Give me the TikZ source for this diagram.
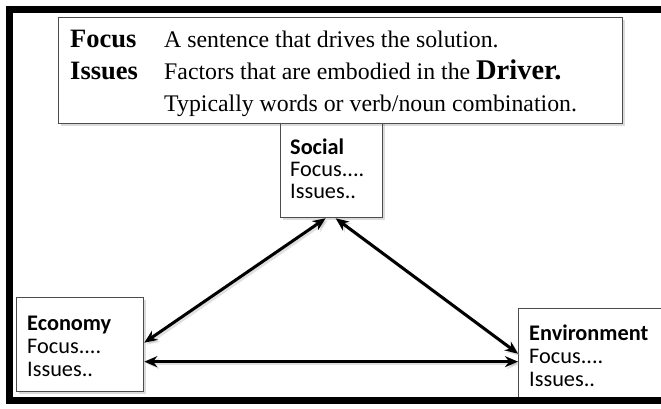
\documentclass[tikz,border=0pt]{standalone}
\usepackage{fontspec}
\setmainfont{Liberation Serif}
\newfontfamily\calfont{Carlito}
\usetikzlibrary{arrows.meta,shadows}

\tikzset{
  box/.style={draw=black!70, line width=1.3pt, fill=white, anchor=north west, inner sep=0pt,
    drop shadow={shadow xshift=2.5pt, shadow yshift=-2.5pt, opacity=0.2, fill=black!70}},
  lbl/.style={anchor=base west, inner sep=0pt, font=\calfont\fontsize{22.3}{23}\selectfont},
  ttl/.style={anchor=base west, inner sep=0pt, font=\calfont\bfseries\fontsize{22.3}{23}\selectfont},
  toplbl/.style={anchor=base west, inner sep=0pt, font=\bfseries\fontsize{26.5}{32}\selectfont},
  topdesc/.style={anchor=base west, inner sep=0pt, font=\fontsize{23.8}{32}\selectfont},
  link/.style={line width=3pt, {Stealth[length=13pt,width=11pt]}-{Stealth[length=13pt,width=11pt]}},
  linkshadow/.style={link, draw=black!40, opacity=0.3, transform canvas={xshift=2pt,yshift=-2pt}},
  frame/.style={line width=7pt, draw=black}
}

\begin{document}
\begin{tikzpicture}[x=1pt,y=-1pt]
\useasboundingbox (0,0) rectangle (661,408);
\clip (0,0) rectangle (661,408);
\fill[white] (0,0) rectangle (661,408);

% boxes
\node[box, minimum width=102pt, minimum height=117pt] (social) at (280,100) {};
\node[box, minimum width=564pt, minimum height=106pt] (top) at (58,17) {};
\node[box, minimum width=127pt, minimum height=94pt] (econ) at (16,297) {};
\node[box, minimum width=200pt, minimum height=92pt] (env) at (518,308) {};

% top box text
\node[toplbl] (fl) at (70,47) {Focus};
\node[topdesc] (fd) at (164,47) {A sentence that drives the solution.};
\node[toplbl] (il) at (70,79) {Issues};
\node[topdesc] (id) at (164,79) {Factors that are embodied in the {\bfseries\fontsize{28.5}{32}\selectfont Driver.}};
\node[topdesc] (tdl) at (164,111) {Typically words or verb/noun combination.};

% social
\node[ttl] (st) at (290,154) {Social};
\node[lbl] (sf) at (290,176) {Focus....};
\node[lbl] (si) at (290,198) {Issues..};

% economy
\node[ttl] (et) at (27,330) {Economy};
\node[lbl] (ef) at (27,353) {Focus....};
\node[lbl] (ei) at (27,376) {Issues..};

% environment
\node[ttl] (vt) at (529,340) {Environment};
\node[lbl] (vf) at (529,363) {Focus....};
\node[lbl] (vi) at (529,386) {Issues..};

% connectors
\draw[linkshadow] ([xshift=-6pt]social.south) -- ([yshift=2pt]econ.east);
\draw[linkshadow] ([xshift=4pt]social.south) -- ([yshift=1pt]env.west);
\draw[linkshadow] ([yshift=-17pt]econ.east) -- ([yshift=-7pt]env.west);
\draw[link] ([xshift=-6pt]social.south) -- ([yshift=2pt]econ.east);
\draw[link] ([xshift=4pt]social.south) -- ([yshift=1pt]env.west);
\draw[link] ([yshift=-17pt]econ.east) -- ([yshift=-7pt]env.west);

% outer frame
\draw[frame] (9,9.5) rectangle (700,400.5);
\end{tikzpicture}
\end{document}
